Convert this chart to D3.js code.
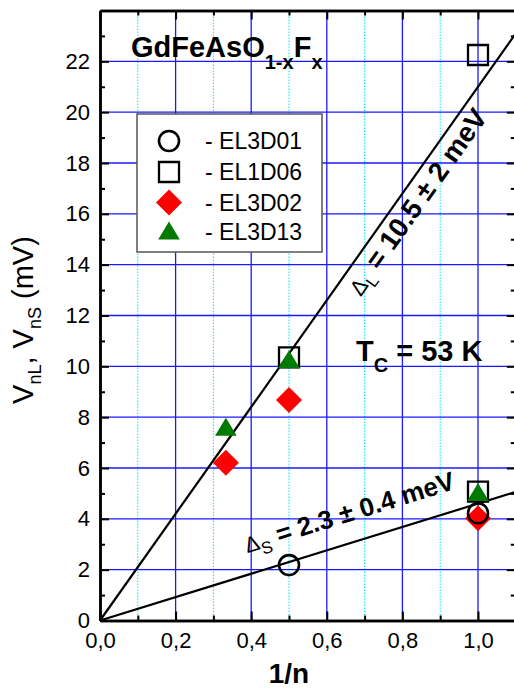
<!DOCTYPE html>
<html>
<head>
<meta charset="utf-8">
<script src="https://cdn.jsdelivr.net/npm/d3@7/dist/d3.min.js"></script>
<style>
  body { margin: 0; background: #fff; }
  svg { display: block; font-family: "Liberation Sans", Arial, sans-serif; }
</style>
</head>
<body>
<svg id="chart" width="514" height="688"></svg>
<script>
// data
const circlePts   = [[0.5, 2.18], [1.0, 4.22]];               // EL3D01
const squarePts   = [[0.5, 10.35], [1.0, 5.07], [1.0, 22.25]]; // EL1D06
const diamondPts  = [[0.333, 6.21], [0.5, 8.68], [1.0, 4.02]]; // EL3D02
const trianglePts = [[0.333, 7.56], [0.5, 10.22], [1.0, 5.0]]; // EL3D13

const slopeL = 21.0;   // 2 * 10.5 meV
const slopeS = 4.6;    // 2 * 2.3 meV

const xMajor = [0, 0.2, 0.4, 0.6, 0.8, 1.0];
const xTickLabels = ["0,0", "0,2", "0,4", "0,6", "0,8", "1,0"];
const xMinor = [0.1, 0.3, 0.5, 0.7, 0.9];
const yMajor = [0, 2, 4, 6, 8, 10, 12, 14, 16, 18, 20, 22];
const yMinor = [1, 3, 5, 7, 9, 11, 13, 15, 17, 19, 21, 23];
const legendNames = ["- EL3D01", "- EL1D06", "- EL3D02", "- EL3D13"];

const svg = d3.select("#chart");
const W = 514, H = 688;
const pLeft = 100, pRight = 515.8, pTop = 10.5, pBottom = 620.5;

const x = d3.scaleLinear().domain([0, 1.1]).range([pLeft, pRight]);
const y = d3.scaleLinear().domain([0, 24]).range([pBottom, pTop]);

svg.append("rect").attr("width", W).attr("height", H).attr("fill", "#fff");

// grid
const grid = svg.append("g");
grid.selectAll(".gxm").data(xMinor).enter().append("line")
    .attr("x1", d => x(d)).attr("x2", d => x(d))
    .attr("y1", pTop).attr("y2", pBottom)
    .attr("stroke", "#00e8ff").attr("stroke-width", 1)
    .attr("stroke-dasharray", "1.5,1.5");
grid.selectAll(".gx").data(xMajor.slice(1)).enter().append("line")
    .attr("x1", d => x(d)).attr("x2", d => x(d))
    .attr("y1", pTop).attr("y2", pBottom)
    .attr("stroke", "#1a1aff").attr("stroke-width", 1.3);
grid.selectAll(".gy").data(yMajor.slice(1)).enter().append("line")
    .attr("x1", pLeft).attr("x2", pRight)
    .attr("y1", d => y(d)).attr("y2", d => y(d))
    .attr("stroke", "#1a1aff").attr("stroke-width", 1.3);

// legend box (covers grid)
const legend = svg.append("g");
legend.append("rect")
    .attr("x", 137).attr("y", 114).attr("width", 185).attr("height", 138)
    .attr("fill", "#fff").attr("stroke", "#555").attr("stroke-width", 1.5);

// fit lines
const line = d3.line().x(d => x(d[0])).y(d => y(d[1]));
svg.append("path")
    .datum([[0, 0], [1.1, 1.1 * slopeL]])
    .attr("d", line).attr("fill", "none").attr("stroke", "#000").attr("stroke-width", 2.2);
svg.append("path")
    .datum([[0, 0], [1.1, 1.1 * slopeS]])
    .attr("d", line).attr("fill", "none").attr("stroke", "#000").attr("stroke-width", 2.2);

// symbol shapes
const shapes = {
    square: "M-10,-10H10V10H-10Z",
    diamond: "M0,-13L13,0L0,13L-13,0Z",
    triangle: "M0,-10.5L10.8,7.5L-10.8,7.5Z"
};

function drawSymbols(pts, kind) {
    const sel = svg.append("g").selectAll("path").data(pts).enter().append("path")
        .attr("transform", d => `translate(${x(d[0])},${y(d[1])})`);
    styleSymbol(sel, kind);
}

function styleSymbol(sel, kind) {
    if (kind === "circle") {
        sel.attr("d", d3.arc()({innerRadius: 0, outerRadius: 10, startAngle: 0, endAngle: 2 * Math.PI}))
            .attr("fill", "none").attr("stroke", "#000").attr("stroke-width", 2.6);
    } else if (kind === "square") {
        sel.attr("d", shapes.square).attr("fill", "none").attr("stroke", "#000").attr("stroke-width", 2.3);
    } else if (kind === "diamond") {
        sel.attr("d", shapes.diamond).attr("fill", "#ff0000");
    } else {
        sel.attr("d", shapes.triangle).attr("fill", "#007a00");
    }
}

drawSymbols(squarePts, "square");
drawSymbols(diamondPts, "diamond");
drawSymbols(trianglePts, "triangle");
drawSymbols(circlePts, "circle");

// legend entries
const kinds = ["circle", "square", "diamond", "triangle"];
const legendY = [141, 172, 202.5, 232];
kinds.forEach((k, i) => {
    const s = legend.append("path").attr("transform", `translate(169,${legendY[i]})`);
    styleSymbol(s, k);
    legend.append("text")
        .attr("x", 205).attr("y", legendY[i]).attr("dy", "0.36em")
        .style("font-size", "23px")
        .text(legendNames[i]);
});

// axes, ticks pointing inward
function styleAxis(g) {
    g.attr("font-family", null).attr("font-size", null);
    g.select(".domain").attr("stroke-width", 2.5).attr("stroke", "#000");
    g.selectAll(".tick line").attr("stroke-width", 2).attr("stroke", "#000");
    g.selectAll(".tick text").style("font-size", "22px").attr("fill", "#000");
}

svg.append("g").attr("transform", `translate(0,${pBottom})`)
    .call(d3.axisBottom(x).tickValues(xMinor).tickSize(-5).tickSizeOuter(0).tickFormat(""))
    .call(styleAxis);
svg.append("g").attr("transform", `translate(0,${pBottom})`)
    .call(d3.axisBottom(x).tickValues(xMajor).tickSize(-9).tickSizeOuter(0).tickPadding(12)
        .tickFormat((d, i) => xTickLabels[i]))
    .call(styleAxis);
svg.append("g").attr("transform", `translate(0,${pTop})`)
    .call(d3.axisTop(x).tickValues(xMinor).tickSize(-5).tickSizeOuter(0).tickFormat(""))
    .call(styleAxis);
svg.append("g").attr("transform", `translate(0,${pTop})`)
    .call(d3.axisTop(x).tickValues(xMajor).tickSize(-9).tickSizeOuter(0).tickFormat(""))
    .call(styleAxis);

svg.append("g").attr("transform", `translate(${pLeft},0)`)
    .call(d3.axisLeft(y).tickValues(yMinor).tickSize(-5).tickSizeOuter(0).tickFormat(""))
    .call(styleAxis);
svg.append("g").attr("transform", `translate(${pLeft},0)`)
    .call(d3.axisLeft(y).tickValues(yMajor).tickSize(-9).tickSizeOuter(0).tickPadding(10)
        .tickFormat(d3.format("d")))
    .call(styleAxis);
svg.append("g").attr("transform", `translate(${pRight},0)`)
    .call(d3.axisRight(y).tickValues(yMinor).tickSize(-5).tickSizeOuter(0).tickFormat(""))
    .call(styleAxis);
svg.append("g").attr("transform", `translate(${pRight},0)`)
    .call(d3.axisRight(y).tickValues(yMajor).tickSize(-9).tickSizeOuter(0).tickFormat(""))
    .call(styleAxis);

// axis titles
svg.append("text")
    .attr("x", x(0.5)).attr("y", 683)
    .attr("text-anchor", "middle")
    .style("font-size", "28px").style("font-weight", "bold")
    .text("1/n");

const yTitle = svg.append("text")
    .attr("transform", "translate(33,320) rotate(-90)")
    .attr("text-anchor", "middle")
    .style("font-size", "29px");
yTitle.append("tspan").text("V");
yTitle.append("tspan").attr("dy", 8).style("font-size", "18px").text("nL");
yTitle.append("tspan").attr("dy", -8).text(", V");
yTitle.append("tspan").attr("dy", 8).style("font-size", "18px").text("nS");
yTitle.append("tspan").attr("dy", -8).text(" (mV)");

// compound title
const title = svg.append("text")
    .attr("x", 131).attr("y", 57)
    .style("font-weight", "bold").style("font-size", "29px");
title.append("tspan").text("GdFeAsO");
title.append("tspan").attr("dy", 12).style("font-size", "20px").text("1-x");
title.append("tspan").attr("dy", -12).text("F");
title.append("tspan").attr("dy", 12).style("font-size", "20px").text("x");

// Tc label
const tc = svg.append("text")
    .attr("x", 356).attr("y", 361)
    .style("font-weight", "bold").style("font-size", "29px");
tc.append("tspan").text("T");
tc.append("tspan").attr("dy", 11).style("font-size", "20px").text("C");
tc.append("tspan").attr("dy", -11).text(" = 53 K");

// gap annotations along the fit lines
function gapLabel(slope, t, offset, sub, rest, fs) {
    const px0 = x(0), py0 = y(0);
    const px1 = x(1), py1 = y(slope);
    const ang = Math.atan2(py1 - py0, px1 - px0);   // negative (upwards)
    const deg = ang * 180 / Math.PI;
    // perpendicular "down" direction in the rotated frame
    const nx = -Math.sin(ang), ny = Math.cos(ang);
    const bx = x(t) + nx * offset, by = y(slope * t) + ny * offset;
    const txt = svg.append("text")
        .attr("transform", `translate(${bx},${by}) rotate(${deg})`)
        .style("font-size", fs + "px");
    txt.append("tspan").style("font-size", "22px").text("\u0394");
    txt.append("tspan").attr("dy", 6).style("font-size", "17px").text(sub);
    txt.append("tspan").attr("dy", -6).style("font-weight", "bold").text(rest);
}

gapLabel(slopeL, 0.634, 26, "L", " = 10.5 \u00b1 2 meV", 27.5);
gapLabel(slopeS, 0.406, -20.7, "S", " = 2.3 \u00b1 0.4 meV", 26);
</script>
</body>
</html>
